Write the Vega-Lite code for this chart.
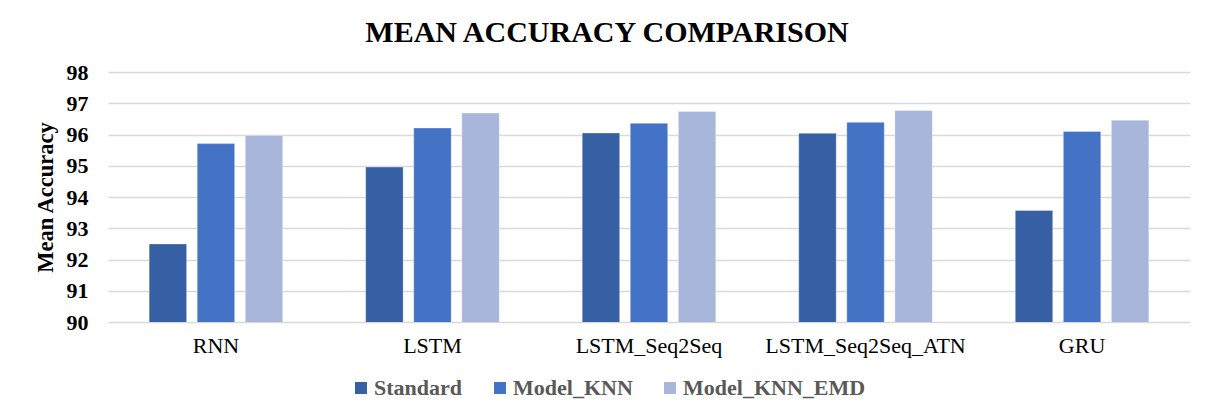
{
  "$schema": "https://vega.github.io/schema/vega-lite/v6.json",
  "width": 1082,
  "height": 250,
  "autosize": "none",
  "padding": {"left": 108, "top": 72, "right": 20, "bottom": 98},
  "background": "#ffffff",
  "title": {
    "text": "MEAN ACCURACY COMPARISON",
    "font": "Liberation Serif",
    "fontSize": 30,
    "fontWeight": "bold",
    "color": "#000000",
    "anchor": "middle",
    "dx": -42,
    "offset": 13
  },
  "data": {
    "values": [
      {"model": "RNN", "method": "Standard", "acc": 92.5},
      {"model": "RNN", "method": "Model_KNN", "acc": 95.71},
      {"model": "RNN", "method": "Model_KNN_EMD", "acc": 95.97},
      {"model": "LSTM", "method": "Standard", "acc": 94.96},
      {"model": "LSTM", "method": "Model_KNN", "acc": 96.21},
      {"model": "LSTM", "method": "Model_KNN_EMD", "acc": 96.69},
      {"model": "LSTM_Seq2Seq", "method": "Standard", "acc": 96.05},
      {"model": "LSTM_Seq2Seq", "method": "Model_KNN", "acc": 96.36},
      {"model": "LSTM_Seq2Seq", "method": "Model_KNN_EMD", "acc": 96.74},
      {"model": "LSTM_Seq2Seq_ATN", "method": "Standard", "acc": 96.04},
      {"model": "LSTM_Seq2Seq_ATN", "method": "Model_KNN", "acc": 96.39},
      {"model": "LSTM_Seq2Seq_ATN", "method": "Model_KNN_EMD", "acc": 96.77},
      {"model": "GRU", "method": "Standard", "acc": 93.57},
      {"model": "GRU", "method": "Model_KNN", "acc": 96.1},
      {"model": "GRU", "method": "Model_KNN_EMD", "acc": 96.46}
    ]
  },
  "mark": {"type": "bar", "clip": true, "stroke": "#ffffff", "strokeOpacity": 0.35, "strokeWidth": 1},
  "encoding": {
    "x": {
      "field": "model",
      "type": "nominal",
      "sort": ["RNN", "LSTM", "LSTM_Seq2Seq", "LSTM_Seq2Seq_ATN", "GRU"],
      "scale": {"paddingInner": 0.383, "paddingOuter": 0.19},
      "axis": {
        "title": null,
        "labelAngle": 0,
        "labelFont": "Liberation Serif",
        "labelFontSize": 22,
        "labelColor": "#000000",
        "labelPadding": 13,
        "labelLimit": 0,
        "ticks": false,
        "domain": false,
        "grid": false
      }
    },
    "xOffset": {
      "field": "method",
      "type": "nominal",
      "sort": ["Standard", "Model_KNN", "Model_KNN_EMD"],
      "scale": {"paddingInner": 0.22, "paddingOuter": 0}
    },
    "y": {
      "field": "acc",
      "type": "quantitative",
      "scale": {"domain": [90, 98], "zero": false, "nice": false},
      "axis": {
        "title": "Mean Accuracy",
        "titleFont": "Liberation Serif",
        "titleFontSize": 22.5,
        "titleFontWeight": "bold",
        "titleColor": "#000000",
        "titlePadding": 9,
        "labelFont": "Liberation Serif",
        "labelFontSize": 22,
        "labelFontWeight": "bold",
        "labelColor": "#000000",
        "labelPadding": 20,
        "values": [90, 91, 92, 93, 94, 95, 96, 97, 98],
        "ticks": false,
        "domain": false,
        "grid": true,
        "gridColor": "#d9d9d9",
        "gridWidth": 1.5
      }
    },
    "color": {
      "field": "method",
      "type": "nominal",
      "sort": ["Standard", "Model_KNN", "Model_KNN_EMD"],
      "scale": {
        "domain": ["Standard", "Model_KNN", "Model_KNN_EMD"],
        "range": ["#375fa3", "#4472c4", "#a9b6db"]
      },
      "legend": {
        "title": null,
        "orient": "none",
        "direction": "horizontal",
        "legendX": 242,
        "legendY": 305,
        "symbolType": "square",
        "symbolSize": 144,
        "symbolStrokeWidth": 0,
        "labelFont": "Liberation Serif",
        "labelFontSize": 22,
        "labelFontWeight": "bold",
        "labelColor": "#595959",
        "labelOffset": 2,
        "labelLimit": 0,
        "columnPadding": 26
      }
    }
  },
  "config": {
    "view": {"stroke": null}
  }
}
